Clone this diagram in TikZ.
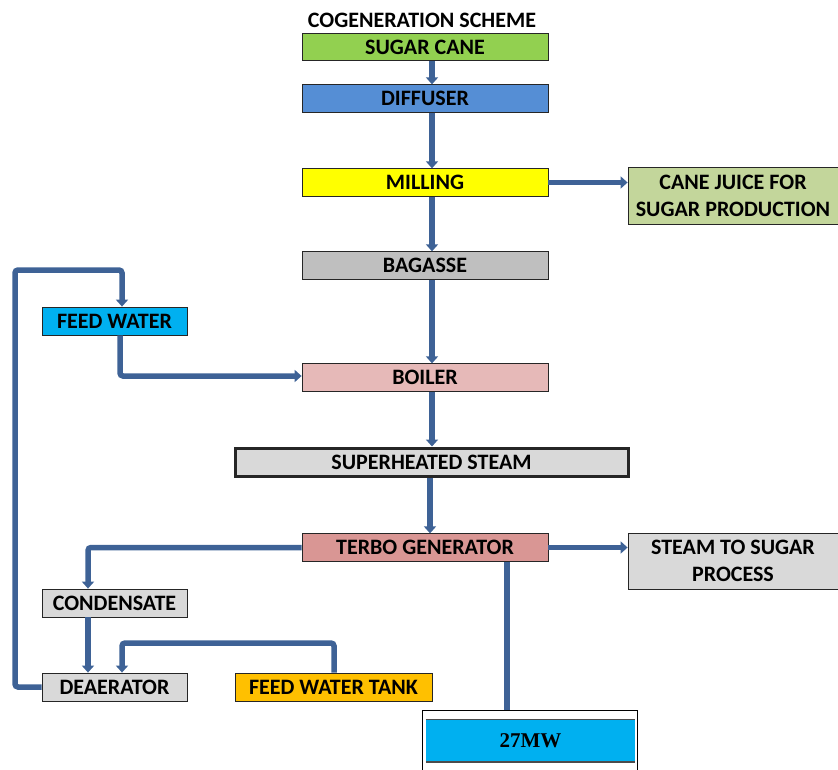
\documentclass[tikz,border=0pt]{standalone}
\usepackage{fontspec}
\setmainfont{Carlito}
\newfontfamily\serifmw{Liberation Serif}
\usetikzlibrary{arrows.meta}
\definecolor{arrowblue}{RGB}{62,98,150}
\definecolor{cgreen}{HTML}{92D050}
\definecolor{cblue}{HTML}{558ED5}
\definecolor{cyellow}{HTML}{FFFF00}
\definecolor{cjuice}{HTML}{C3D69B}
\definecolor{cbag}{HTML}{BFBFBF}
\definecolor{ccyan}{HTML}{00B0F0}
\definecolor{cboiler}{HTML}{E6B9B8}
\definecolor{clgray}{HTML}{D9D9D9}
\definecolor{cterbo}{HTML}{D99694}
\definecolor{ctank}{HTML}{FFC000}
\tikzset{
  box/.style={draw=black!85, line width=0.8pt, inner sep=0pt, align=center,
    font=\fontsize{22}{27}\selectfont\bfseries, text=black},
  wide/.style={box, minimum width=246pt, minimum height=27.5pt},
  small/.style={box, minimum width=145pt, minimum height=28pt},
  side/.style={box, minimum width=210pt, minimum height=57pt},
  arr/.style={draw=arrowblue, line width=5.5pt, rounded corners=3pt,
    -{Triangle[width=12pt,length=7pt]}},
  plain/.style={draw=arrowblue, line width=5.5pt},
}
\begin{document}
\begin{tikzpicture}[x=1pt,y=-1pt]
\useasboundingbox (0,0) rectangle (838,770);
\node[font=\fontsize{22}{26}\selectfont\bfseries] (title) at (422,20) {COGENERATION SCHEME};
\node[wide, fill=cgreen] (sugar) at (425,47) {SUGAR CANE};
\node[wide, fill=cblue] (diff) at (425,98.5) {DIFFUSER};
\node[wide, fill=cyellow] (mill) at (425,182.5) {MILLING};
\node[side, fill=cjuice] (juice) at (733,195.5) {CANE JUICE FOR\\SUGAR PRODUCTION};
\node[wide, fill=cbag] (bag) at (425,265.5) {BAGASSE};
\node[small, fill=ccyan] (fw) at (114.5,321) {FEED WATER};
\node[wide, fill=cboiler] (boiler) at (425,377.5) {BOILER};
\node[box, fill=clgray, line width=3pt, minimum width=393pt, minimum height=28pt] (steam) at (431.5,462) {SUPERHEATED STEAM};
\node[wide, fill=cterbo] (terbo) at (425,547.5) {TERBO GENERATOR};
\node[side, fill=clgray, minimum height=56pt] (process) at (733,561) {STEAM TO SUGAR\\PROCESS};
\node[small, fill=clgray] (cond) at (114.5,603) {CONDENSATE};
\node[small, fill=clgray] (dea) at (114.5,687) {DEAERATOR};
\node[box, fill=ctank, minimum width=197pt, minimum height=28pt] (tank) at (333.5,687) {FEED WATER TANK};
% 27MW
\draw[black, line width=1pt] (422,772) -- (422,710) -- (637,710) -- (637,772);
\node[draw=none, fill=ccyan, minimum width=209pt, minimum height=42pt, inner sep=0pt,
  font=\serifmw\fontsize{21}{24}\selectfont\bfseries] (mw) at (530.5,741) {27MW};
\draw[black!70, line width=1pt] (mw.north west) -- (mw.north east);
\draw[black!70, line width=1.5pt] (mw.south west) -- (mw.south east);
% helper coordinates
\coordinate (cx) at (432,0);
\coordinate (cx2) at (430,0);
\coordinate (lx) at (15,0);
\coordinate (topy) at (0,270);
\coordinate (fwx) at (122,0);
\coordinate (fwin) at (120,376);
\coordinate (condx) at (88,0);
\coordinate (tanky) at (0,643);
\coordinate (tankx) at (334,0);
\coordinate (mwx) at (507,0);
\coordinate (mwtop) at (0,710);
% main line
\draw[arr] (sugar.south -| cx) -- (diff.north -| cx);
\draw[arr] (diff.south -| cx) -- (mill.north -| cx);
\draw[arr] (mill.east) -- (juice.west |- mill.east);
\draw[arr] (mill.south -| cx) -- (bag.north -| cx);
\draw[arr] (bag.south -| cx) -- (boiler.north -| cx);
\draw[arr] (boiler.south -| cx) -- (steam.north -| cx);
\draw[arr] (steam.south -| cx2) -- (terbo.north -| cx2);
\draw[arr] (terbo.east) -- (process.west |- terbo.east);
\draw[plain] (terbo.south -| mwx) -- (mwx |- mwtop);
% feed water to boiler
\draw[arr] (fw.south -| fwin) |- (boiler.west |- fwin);
% terbo to condensate
\draw[arr] (terbo.west) -| (cond.north -| condx);
\draw[arr] (cond.south -| condx) -- (dea.north -| condx);
% tank to deaerator
\draw[arr] (tank.north -| tankx) |- (fwx |- tanky) -- (dea.north -| fwx);
% deaerator loop to feed water
\draw[arr] (dea.west) -| (lx |- topy) -| (fw.north -| fwx);
\end{tikzpicture}
\end{document}
